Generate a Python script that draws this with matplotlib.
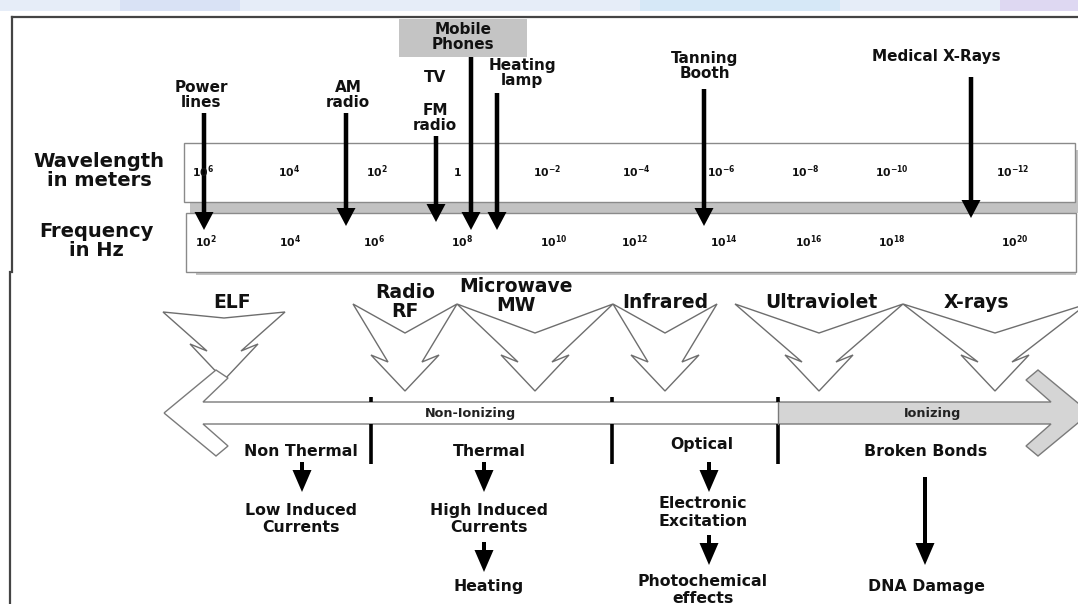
import matplotlib
matplotlib.use('Agg')
import matplotlib.pyplot as plt
from matplotlib.patches import Polygon, Rectangle, FancyArrow

plt.rcParams['font.family'] = ['DejaVu Sans']
plt.rcParams['mathtext.fontset'] = 'dejavusans'
plt.rcParams['mathtext.default'] = 'bf'

# ---------------- data ----------------
wavelength_exponents = [6, 4, 2, 0, -2, -4, -6, -8, -10, -12]
frequency_exponents = [2, 4, 6, 8, 10, 12, 14, 16, 18, 20]
row_labels = ['Wavelength\nin meters', 'Frequency\nin Hz']
source_names = ['Power\nlines', 'AM\nradio', 'FM\nradio', 'Mobile\nPhones',
                'Heating\nlamp', 'Tanning\nBooth', 'Medical X-Rays']
extra_source = 'TV'
band_names = ['ELF', 'Radio\nRF', 'Microwave\nMW', 'Infrared', 'Ultraviolet', 'X-rays']
region_names = ['Non-Ionizing', 'Ionizing']
effect_chains = [['Non Thermal', 'Low Induced\nCurrents'],
                 ['Thermal', 'High Induced\nCurrents', 'Heating'],
                 ['Optical', 'Electronic\nExcitation', 'Photochemical\neffects'],
                 ['Broken Bonds', 'DNA Damage']]

# ---------------- layout (pixels) ----------------
wl_x = [203, 289, 377, 457, 547, 636, 721, 805, 892, 1013]
fq_x = [206, 290, 374, 462, 554, 635, 724, 809, 892, 1015]
# arrow x, arrow top, arrow tip, label x, label y
src_layout = [(204, 113, 230, 201, 95),
              (346, 113, 226, 348, 95),
              (436, 136, 222, 435, 118),
              (471, 57, 230, 463, 37),
              (497, 93, 230, 522, 73),
              (704, 89, 226, 705, 66),
              (971, 77, 218, 936, 57)]
tv_pos = (435, 78)
# cx, half width, top, dip, tip
band_layout = [(224, 61, 312, 318, 380),
               (405, 52, 304, 333, 391),
               (535, 78, 304, 333, 391),
               (665, 52, 304, 333, 391),
               (819, 84, 304, 333, 391),
               (995, 92, 304, 333, 391)]
band_label_pos = [(232, 303), (405, 302), (516, 296), (665, 303), (821, 303), (976, 303)]
divider_x = [371, 612, 778]
region_label_pos = [(470, 413), (933, 413)]

W, H = 1078, 604
fig = plt.figure(figsize=(W / 100, H / 100), dpi=100)
ax = fig.add_axes([0, 0, 1, 1])
ax.set_xlim(0, W)
ax.set_ylim(H, 0)
ax.axis('off')

# faint banner at top
ax.add_patch(Rectangle((0, 0), W, 11, facecolor='#e6edf8', edgecolor='none'))
for x0, w0, c in [(120, 120, '#d9e2f5'), (640, 200, '#d6e8f7'), (1000, 78, '#ded8f2')]:
    ax.add_patch(Rectangle((x0, 0), w0, 11, facecolor=c, edgecolor='none'))

# frame
ax.plot([12, W], [17, 17], color='#444444', lw=1.6)
ax.plot([12, 12], [17, 272], color='#444444', lw=1.6)
ax.plot([10, 10], [272, H], color='#444444', lw=1.6)

# scale boxes with shadows
shadow = '#c2c2c2'
ax.add_patch(Rectangle((190, 202), 888, 11, facecolor=shadow, edgecolor='none'))
ax.add_patch(Rectangle((1075, 150), 3, 60, facecolor=shadow, edgecolor='none'))
ax.add_patch(Rectangle((196, 272), 880, 3, facecolor=shadow, edgecolor='none'))
ax.add_patch(Rectangle((184, 143), 891, 59, facecolor='white', edgecolor='#8a8a8a', lw=1))
ax.add_patch(Rectangle((186, 213), 890, 59, facecolor='white', edgecolor='#8a8a8a', lw=1))

for lab, (x, y) in zip(row_labels, [(99, 171), (96, 241)]):
    ax.text(x, y, lab, ha='center', va='center', fontsize=14, fontweight='bold',
            linespacing=1.0, color='#111111')

def exp_label(e):
    return r'$1$' if e == 0 else r'$10^{%d}$' % e

for e, x in zip(wavelength_exponents, wl_x):
    ax.text(x, 172, exp_label(e), ha='center', va='center', fontsize=7.8, color='#111111')
for e, x in zip(frequency_exponents, fq_x):
    ax.text(x, 242, exp_label(e), ha='center', va='center', fontsize=7.8, color='#111111')

# mobile phone box
ax.add_patch(Rectangle((399, 19), 128, 38, facecolor='#c4c4c4', edgecolor='none'))

def down_arrow(x, y0, y1, shaft=4.5, hw=19, hl=18):
    ax.add_patch(FancyArrow(x, y0, 0, y1 - y0, width=shaft, head_width=hw, head_length=hl,
                            length_includes_head=True, color='black', lw=0))

for name, (ax_x, top, tip, lx, ly) in zip(source_names, src_layout):
    ax.text(lx, ly, name, ha='center', va='center', fontsize=11, fontweight='bold',
            linespacing=1.0, color='#111111')
    down_arrow(ax_x, top, tip)
ax.text(tv_pos[0], tv_pos[1], extra_source, ha='center', va='center', fontsize=11,
        fontweight='bold', color='#111111')

# band lightning shapes
def band_poly(cx, w, top, dip, tip):
    return [(cx - w, top), (cx, dip), (cx + w, top), (cx + 17, tip - 29),
            (cx + 34, tip - 36), (cx, tip), (cx - 34, tip - 36), (cx - 17, tip - 29)]

for (cx, w, top, dip, tip) in band_layout:
    ax.add_patch(Polygon(band_poly(cx, w, top, dip, tip), closed=True, facecolor='white',
                         edgecolor='#6e6e6e', lw=1.0))
for name, (x, y) in zip(band_names, band_label_pos):
    ax.text(x, y, name, ha='center', va='center', fontsize=13.5, fontweight='bold',
            linespacing=1.0, color='#111111')

# big double arrow
arrow_pts = [(164, 413), (216, 370), (228, 378), (203, 402), (1051, 402), (1026, 380),
             (1038, 370), (1090, 413), (1038, 456), (1026, 446), (1051, 424), (203, 424),
             (228, 446), (216, 456)]
ax.add_patch(Polygon(arrow_pts, closed=True, facecolor='white', edgecolor='none'))
gray_part = Polygon(arrow_pts, closed=True, facecolor='#d5d5d5', edgecolor='none')
ax.add_patch(gray_part)
clip = Rectangle((divider_x[2], 0), 400, H, transform=ax.transData)
gray_part.set_clip_path(clip)
ax.add_patch(Polygon(arrow_pts, closed=True, facecolor='none', edgecolor='#7a7a7a', lw=1.0))

for x in divider_x:
    ax.plot([x, x], [397, 402], color='black', lw=2.6, solid_capstyle='butt')
    ax.plot([x, x], [424, 464], color='black', lw=2.6, solid_capstyle='butt')
ax.plot([divider_x[2], divider_x[2]], [402, 424], color='#7a7a7a', lw=1.0)

for name, (x, y) in zip(region_names, region_label_pos):
    ax.text(x, y, name, ha='center', va='center', fontsize=9.2, fontweight='bold', color='#222222')

# effects chains
chain_layout = [
    [(301, 452), (301, 519)],
    [(489, 452), (489, 519), (489, 587)],
    [(702, 445), (703, 513), (703, 590)],
    [(926, 452), (926, 587)],
]
chain_spacing = [
    [1.0, 1.2],
    [1.0, 1.2, 1.0],
    [1.0, 1.25, 1.1],
    [1.0, 1.0],
]
chain_arrows = [
    [(302, 462, 492)],
    [(484, 462, 492), (484, 542, 572)],
    [(709, 462, 492), (709, 535, 565)],
    [(925, 477, 565)],
]
for texts, poss, sps, arrs in zip(effect_chains, chain_layout, chain_spacing, chain_arrows):
    for t, (x, y), sp in zip(texts, poss, sps):
        ax.text(x, y, t, ha='center', va='center', fontsize=11.3, fontweight='bold',
                linespacing=sp, color='#111111')
    for (x, y0, y1) in arrs:
        down_arrow(x, y0, y1, shaft=4, hw=19, hl=22)

fig.savefig('out.png', dpi=100)
